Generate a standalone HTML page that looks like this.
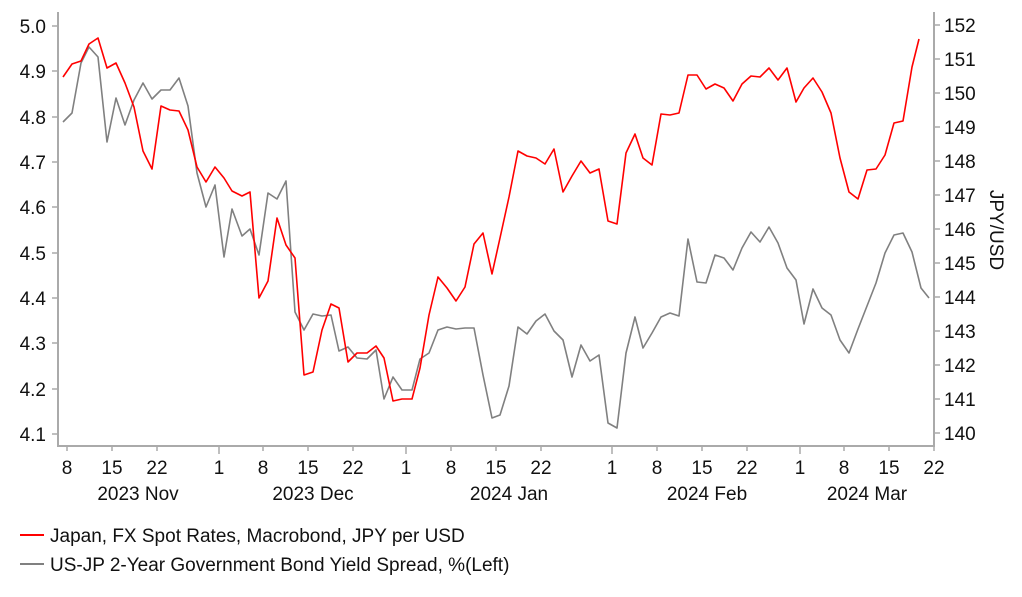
<!DOCTYPE html>
<html><head><meta charset="utf-8"><style>body{margin:0;background:#fff}svg{display:block}text{font-family:"Liberation Sans",Arial,sans-serif;fill:#111}</style></head><body>
<svg width="1022" height="597" viewBox="0 0 1022 597">
<g stroke="#aaa" stroke-width="2" fill="none">
<path d="M58,12V446H934V12"/>
</g>
<g stroke="#aaa" stroke-width="1.5">
<path d="M52,26h6M52,71h6M52,117h6M52,162h6M52,207h6M52,253h6M52,298h6M52,343h6M52,389h6M52,434h6"/>
<path d="M934,25h6M934,59h6M934,93h6M934,127h6M934,161h6M934,195h6M934,229h6M934,263h6M934,297h6M934,331h6M934,365h6M934,399h6M934,433h6"/>
<path d="M67,446v5M112,446v5M157,446v5M263,446v5M308,446v5M353,446v5M451,446v5M496,446v5M541,446v5M657,446v5M702,446v5M747,446v5M844,446v5M889,446v5M934,446v5"/>
<path d="M219,446v8M406,446v8M612,446v8M800,446v8"/>
</g>
<g font-size="19" text-anchor="end">
<text x="46" y="33">5.0</text><text x="46" y="78">4.9</text><text x="46" y="124">4.8</text><text x="46" y="169">4.7</text><text x="46" y="214">4.6</text><text x="46" y="260">4.5</text><text x="46" y="305">4.4</text><text x="46" y="350">4.3</text><text x="46" y="396">4.2</text><text x="46" y="441">4.1</text>
</g>
<g font-size="19">
<text x="944" y="32">152</text><text x="944" y="66">151</text><text x="944" y="100">150</text><text x="944" y="134">149</text><text x="944" y="168">148</text><text x="944" y="202">147</text><text x="944" y="236">146</text><text x="944" y="270">145</text><text x="944" y="304">144</text><text x="944" y="338">143</text><text x="944" y="372">142</text><text x="944" y="406">141</text><text x="944" y="440">140</text>
</g>
<text font-size="19" transform="translate(990,230) rotate(90)" text-anchor="middle">JPY/USD</text>
<g font-size="19" text-anchor="middle">
<text x="67" y="474">8</text><text x="112" y="474">15</text><text x="157" y="474">22</text><text x="219" y="474">1</text><text x="263" y="474">8</text><text x="308" y="474">15</text><text x="353" y="474">22</text><text x="406" y="474">1</text><text x="451" y="474">8</text><text x="496" y="474">15</text><text x="541" y="474">22</text><text x="612" y="474">1</text><text x="657" y="474">8</text><text x="702" y="474">15</text><text x="747" y="474">22</text><text x="800" y="474">1</text><text x="844" y="474">8</text><text x="889" y="474">15</text><text x="934" y="474">22</text>
<text x="138" y="500">2023 Nov</text><text x="313" y="500">2023 Dec</text><text x="509" y="500">2024 Jan</text><text x="707" y="500">2024 Feb</text><text x="867" y="500">2024 Mar</text>
</g>
<polyline fill="none" stroke="#808080" stroke-width="1.6" stroke-linejoin="round" points="63,122 72,113 81,63 89,47 98,57 107,142 116,98 125,125 134,100 143,83 152,99 161,90 170,90 179,78 188,106 197,173 206,207 215,185 224,257 232,209 242,236 250,229 259,255 268,193 277,199 286,181 295,312 304,330 313,314 322,316 331,315 339,351 348,347 357,358 367,359 376,350 384,399 393,377 402,390 412,390 420,359 429,353 438,330 447,327 456,329 465,328 474,328 483,375 492,418 500,415 509,386 518,327 527,334 536,321 545,314 554,331 563,340 572,377 581,345 590,361 599,355 608,423 617,428 626,353 635,317 643,348 652,333 661,317 670,313 679,316 688,239 697,282 706,283 715,255 724,258 733,270 742,248 751,232 760,242 769,227 778,243 787,268 796,280 804,324 813,289 822,308 831,315 840,340 849,353 858,329 867,306 876,283 885,253 894,235 903,233 912,252 921,288 929,298"/>
<polyline fill="none" stroke="#ff0000" stroke-width="1.6" stroke-linejoin="round" points="63,77 72,64 81,61 89,44 98,38 107,68 116,63 125,83 134,107 143,151 152,169 161,106 170,110 179,111 188,130 197,167 206,182 215,167 224,178 232,191 242,196 250,192 259,298 268,281 277,218 286,245 295,258 304,375 313,372 322,330 331,304 339,308 348,362 357,353 367,353 376,346 384,358 393,401 402,399 412,399 420,368 429,315 438,277 447,288 456,301 465,287 474,244 483,233 492,274 500,238 509,197 518,151 527,156 536,158 545,164 554,149 563,192 572,176 581,161 590,173 599,169 608,221 617,224 626,153 635,134 643,158 652,165 661,114 670,115 679,113 688,75 697,75 706,89 715,84 724,88 733,101 742,84 751,76 760,77 769,68 778,80 787,68 796,102 804,88 813,78 822,92 831,113 840,158 849,192 858,199 867,170 876,169 885,155 894,123 903,121 912,67 919,39"/>
<line x1="20" y1="535" x2="44" y2="535" stroke="#ff0000" stroke-width="2"/>
<line x1="20" y1="564" x2="44" y2="564" stroke="#808080" stroke-width="2"/>
<text x="50" y="542" font-size="19">Japan, FX Spot Rates, Macrobond, JPY per USD</text>
<text x="50" y="571" font-size="19">US-JP 2-Year Government Bond Yield Spread, %(Left)</text>
</svg>
</body></html>
